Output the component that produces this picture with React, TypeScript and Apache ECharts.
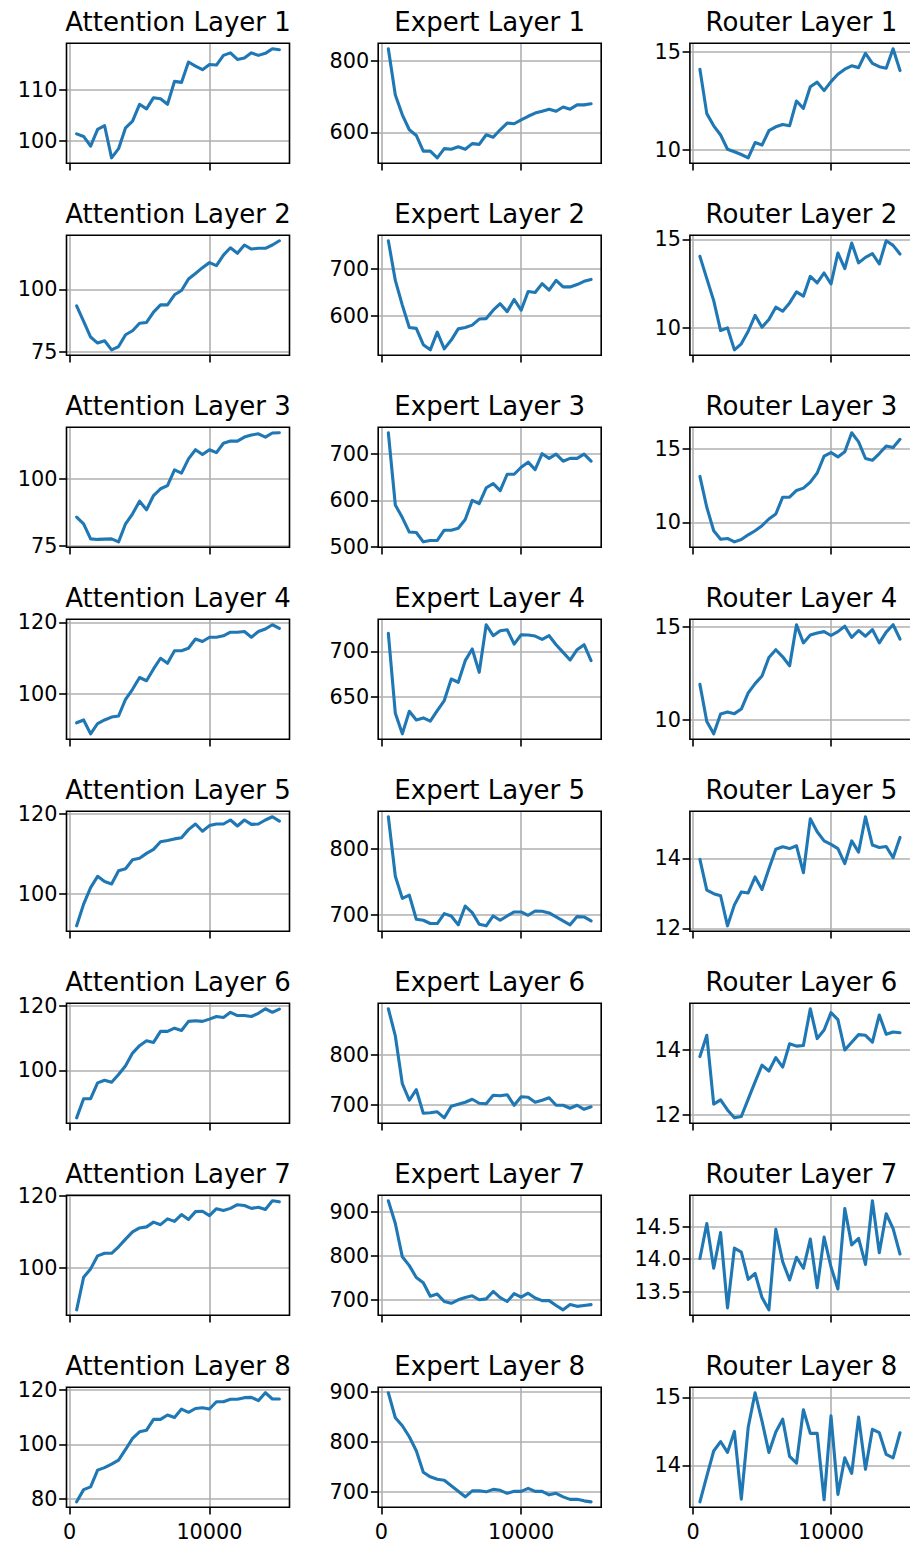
import React, { useEffect, useRef } from "react";
import * as echarts from "echarts";

const steps = [500, 1000, 1500, 2000, 2500, 3000, 3500, 4000, 4500, 5000, 5500, 6000, 6500, 7000, 7500, 8000, 8500, 9000, 9500, 10000, 10500, 11000, 11500, 12000, 12500, 13000, 13500, 14000, 14500, 15000];
const xTicks = [0, 10000];

const attention1 = [101.3, 100.8, 98.9, 102.2, 102.9, 96.6, 98.4, 102.5, 103.8, 107.1, 106.2, 108.4, 108.2, 107.1, 111.6, 111.4, 115.4, 114.6, 113.9, 114.9, 114.8, 116.7, 117.2, 115.9, 116.2, 117.2, 116.7, 117.1, 118.0, 117.8];
const expert1 = [835, 705, 649, 607, 591, 547, 547, 528, 554, 552, 559, 552, 568, 566, 593, 586, 607, 626, 624, 635, 645, 654, 659, 665, 659, 671, 665, 677, 677, 680];
const router1 = [14.1, 11.84, 11.22, 10.75, 10.03, 9.9, 9.76, 9.59, 10.37, 10.24, 10.97, 11.17, 11.29, 11.22, 12.48, 12.11, 13.21, 13.44, 13.01, 13.47, 13.84, 14.1, 14.27, 14.18, 14.91, 14.4, 14.23, 14.15, 15.14, 14.03];

const attention2 = [93.4, 87.2, 81.0, 78.6, 79.5, 75.9, 77.2, 81.9, 83.5, 86.5, 86.8, 90.9, 93.8, 93.8, 97.8, 99.5, 104.1, 106.3, 108.6, 110.6, 109.4, 113.6, 116.5, 114.3, 117.6, 116.0, 116.3, 116.3, 117.6, 119.3];
const expert2 = [761, 676, 623, 575, 573, 538, 527, 565, 529, 548, 572, 575, 580, 593, 594, 612, 626, 609, 635, 612, 652, 650, 669, 655, 676, 662, 662, 667, 674, 678];
const router2 = [14.04, 12.78, 11.54, 9.85, 10.0, 8.76, 9.1, 9.81, 10.71, 10.04, 10.47, 11.17, 10.94, 11.41, 12.03, 11.79, 12.91, 12.54, 13.1, 12.48, 14.23, 13.35, 14.79, 13.67, 13.98, 14.19, 13.61, 14.92, 14.66, 14.17];

const attention3 = [85.8, 83.3, 77.7, 77.5, 77.6, 77.7, 76.6, 83.3, 87.0, 91.7, 88.5, 93.8, 96.3, 97.5, 103.3, 102.1, 107.4, 110.8, 109.0, 110.8, 109.7, 113.2, 114.0, 114.0, 115.5, 116.3, 116.7, 115.5, 117.0, 117.1];
const expert3 = [745, 590, 563, 532, 531, 511, 514, 514, 536, 536, 540, 559, 600, 593, 627, 636, 621, 656, 656, 671, 682, 666, 700, 690, 699, 684, 690, 690, 699, 684];
const router3 = [13.14, 11.03, 9.43, 8.85, 8.9, 8.67, 8.83, 9.15, 9.43, 9.77, 10.23, 10.57, 11.72, 11.72, 12.18, 12.34, 12.75, 13.37, 14.52, 14.77, 14.47, 14.82, 16.12, 15.5, 14.36, 14.24, 14.7, 15.21, 15.11, 15.67];

const attention4 = [91.8, 92.6, 88.7, 91.6, 92.6, 93.4, 93.7, 98.4, 101.2, 104.5, 103.6, 106.9, 109.9, 108.5, 112.0, 112.0, 112.7, 115.3, 114.6, 115.8, 115.8, 116.2, 117.2, 117.2, 117.4, 115.8, 117.4, 118.1, 119.3, 118.3];
const expert4 = [719.7, 632.1, 609.5, 634.3, 624.8, 627.0, 623.4, 635.0, 646.0, 669.7, 666.1, 689.8, 702.6, 677.0, 729.2, 717.2, 722.6, 723.7, 708.0, 718.2, 717.9, 716.8, 713.1, 717.2, 707.3, 698.9, 690.5, 701.8, 707.3, 689.8];
const router4 = [11.91, 9.91, 9.24, 10.31, 10.42, 10.33, 10.58, 11.45, 11.95, 12.36, 13.36, 13.78, 13.4, 12.91, 15.13, 14.15, 14.58, 14.69, 14.76, 14.55, 14.76, 15.05, 14.45, 14.82, 14.51, 14.87, 14.15, 14.73, 15.13, 14.36];

const attention5 = [92.1, 97.5, 101.6, 104.4, 103.1, 102.5, 105.8, 106.3, 108.5, 108.9, 110.1, 111.1, 113.0, 113.3, 113.7, 114.0, 116.0, 117.4, 115.6, 117.0, 117.4, 117.4, 118.4, 116.9, 118.4, 117.3, 117.4, 118.4, 119.2, 118.1];
const expert5 = [847.8, 758.2, 724.9, 729.9, 693.5, 692.0, 687.1, 687.1, 702.0, 698.5, 685.1, 713.4, 703.5, 686.1, 683.6, 698.5, 692.0, 698.5, 704.5, 704.5, 699.5, 706.0, 705.5, 703.0, 697.0, 691.0, 685.1, 697.5, 697.0, 691.0];
const router5 = [13.97, 13.09, 12.99, 12.93, 12.07, 12.67, 13.04, 13.01, 13.47, 13.11, 13.7, 14.26, 14.33, 14.28, 14.36, 13.59, 15.13, 14.76, 14.5, 14.4, 14.28, 13.85, 14.5, 14.18, 15.19, 14.38, 14.31, 14.34, 14.02, 14.6];

const attention6 = [85.3, 91.2, 91.2, 96.1, 96.9, 96.3, 98.7, 101.4, 105.3, 107.6, 109.1, 108.6, 112.0, 112.0, 113.0, 112.3, 115.1, 115.3, 115.1, 115.8, 116.6, 116.3, 117.9, 116.9, 116.9, 116.6, 117.6, 119.0, 117.9, 118.9];
const expert6 = [891, 837, 742, 709, 730, 683, 684, 686, 674, 697, 701, 705, 711, 703, 702, 719, 718, 720, 699, 716, 715, 705, 709, 714, 699, 699, 693, 699, 691, 696];
const router6 = [13.79, 14.44, 12.34, 12.47, 12.16, 11.92, 11.96, 12.49, 13.02, 13.53, 13.35, 13.76, 13.47, 14.18, 14.11, 14.13, 15.25, 14.34, 14.6, 15.13, 14.92, 13.99, 14.23, 14.46, 14.44, 14.23, 15.06, 14.47, 14.54, 14.52];

const attention7 = [88.5, 97.5, 99.8, 103.4, 104.1, 104.1, 105.9, 108.0, 110.0, 111.1, 111.4, 112.7, 112.0, 113.6, 112.9, 114.8, 113.4, 115.6, 115.7, 114.5, 116.4, 115.9, 116.5, 117.5, 117.3, 116.5, 116.8, 116.2, 118.6, 118.3];
const expert7 = [926, 874, 798, 778, 751, 739, 708, 713, 696, 692, 700, 705, 709, 700, 702, 719, 705, 696, 714, 706, 715, 704, 698, 698, 687, 677, 689, 685, 687, 689];
const router7 = [14.01, 14.55, 13.86, 14.41, 13.25, 14.17, 14.11, 13.69, 13.78, 13.41, 13.22, 14.46, 13.96, 13.68, 14.03, 13.86, 14.31, 13.56, 14.34, 13.88, 13.54, 14.78, 14.22, 14.32, 13.92, 14.9, 14.1, 14.7, 14.47, 14.08];

const attention8 = [78.8, 83.3, 84.3, 90.5, 91.4, 92.7, 94.2, 98.1, 102.2, 104.6, 105.2, 109.2, 109.2, 110.8, 109.9, 113.0, 111.8, 113.2, 113.5, 113.0, 115.7, 115.7, 116.6, 116.6, 117.2, 117.3, 116.1, 119.0, 116.7, 116.7];
const expert8 = [898, 848, 832, 810, 782, 739, 730, 725, 723, 712, 701, 690, 702, 702, 700, 705, 703, 697, 701, 701, 707, 701, 701, 694, 697, 690, 685, 685, 682, 680];
const router8 = [13.46, 13.84, 14.21, 14.35, 14.19, 14.5, 13.5, 14.56, 15.07, 14.65, 14.19, 14.49, 14.68, 14.13, 14.03, 14.82, 14.47, 14.47, 13.49, 14.73, 13.57, 14.11, 13.88, 14.71, 13.94, 14.53, 14.48, 14.16, 14.11, 14.48];

const attTicks1 = [100, 110];
const expTicks1 = [600, 800];
const rtTicks1 = [10, 15];
const attTicks2 = [75, 100];
const expTicks2 = [600, 700];
const rtTicks2 = [10, 15];
const attTicks3 = [75, 100];
const expTicks3 = [500, 600, 700];
const rtTicks3 = [10, 15];
const attTicks4 = [100, 120];
const expTicks4 = [650, 700];
const rtTicks4 = [10, 15];
const attTicks5 = [100, 120];
const expTicks5 = [700, 800];
const rtTicks5 = [12, 14];
const attTicks6 = [100, 120];
const expTicks6 = [700, 800];
const rtTicks6 = [12, 14];
const attTicks7 = [100, 120];
const expTicks7 = [700, 800, 900];
const rtTicks7 = [13.5, 14.0, 14.5];
const attTicks8 = [80, 100, 120];
const expTicks8 = [700, 800, 900];
const rtTicks8 = [14, 15];

const panels = [
  { title: "Attention Layer 1", data: attention1, ticks: attTicks1, dec: 0 },
  { title: "Expert Layer 1", data: expert1, ticks: expTicks1, dec: 0 },
  { title: "Router Layer 1", data: router1, ticks: rtTicks1, dec: 0 },
  { title: "Attention Layer 2", data: attention2, ticks: attTicks2, dec: 0 },
  { title: "Expert Layer 2", data: expert2, ticks: expTicks2, dec: 0 },
  { title: "Router Layer 2", data: router2, ticks: rtTicks2, dec: 0 },
  { title: "Attention Layer 3", data: attention3, ticks: attTicks3, dec: 0 },
  { title: "Expert Layer 3", data: expert3, ticks: expTicks3, dec: 0 },
  { title: "Router Layer 3", data: router3, ticks: rtTicks3, dec: 0 },
  { title: "Attention Layer 4", data: attention4, ticks: attTicks4, dec: 0 },
  { title: "Expert Layer 4", data: expert4, ticks: expTicks4, dec: 0 },
  { title: "Router Layer 4", data: router4, ticks: rtTicks4, dec: 0 },
  { title: "Attention Layer 5", data: attention5, ticks: attTicks5, dec: 0 },
  { title: "Expert Layer 5", data: expert5, ticks: expTicks5, dec: 0 },
  { title: "Router Layer 5", data: router5, ticks: rtTicks5, dec: 0 },
  { title: "Attention Layer 6", data: attention6, ticks: attTicks6, dec: 0 },
  { title: "Expert Layer 6", data: expert6, ticks: expTicks6, dec: 0 },
  { title: "Router Layer 6", data: router6, ticks: rtTicks6, dec: 0 },
  { title: "Attention Layer 7", data: attention7, ticks: attTicks7, dec: 0 },
  { title: "Expert Layer 7", data: expert7, ticks: expTicks7, dec: 0 },
  { title: "Router Layer 7", data: router7, ticks: rtTicks7, dec: 1 },
  { title: "Attention Layer 8", data: attention8, ticks: attTicks8, dec: 0 },
  { title: "Expert Layer 8", data: expert8, ticks: expTicks8, dec: 0 },
  { title: "Router Layer 8", data: router8, ticks: rtTicks8, dec: 0 },
];

const COL_LEFT = [66.5, 378.2, 689.9];
const PLOT_W = 223;
const PLOT_H = 120;
const ROW_TOP0 = 43.3;
const ROW_STEP = 192;
const X_MIN = -225;
const X_MAX = 15725;
const FONT = "DejaVu Sans";
const LW = 1.6;

export default function App() {
  const ref = useRef<HTMLDivElement>(null);
  useEffect(() => {
    if (!ref.current) return;
    const chart = echarts.init(ref.current, null, { renderer: "svg" });
    const grids: any[] = [];
    const xAxes: any[] = [];
    const yAxes: any[] = [];
    const series: any[] = [];
    const graphics: any[] = [];
    panels.forEach((p, i) => {
      const row = Math.floor(i / 3);
      const col = i % 3;
      const left = COL_LEFT[col];
      const top = ROW_TOP0 + ROW_STEP * row;
      const lo = Math.min(...p.data);
      const hi = Math.max(...p.data);
      const pad = (hi - lo) * 0.05;
      grids.push({ left, top, width: PLOT_W, height: PLOT_H, containLabel: false });
      xAxes.push({
        type: "value",
        gridIndex: i,
        min: X_MIN,
        max: X_MAX,
        axisLine: { show: false, onZero: false },
        axisTick: { show: true, customValues: xTicks, length: 7.3, lineStyle: { color: "#000", width: LW } },
        axisLabel: {
          show: row === 7,
          customValues: xTicks,
          margin: 14.6,
          fontSize: 20.8,
          fontFamily: FONT,
          color: "#000",
          formatter: (v: number) => String(v),
        },
        splitLine: { show: true, lineStyle: { color: "#b0b0b0", width: LW } },
      });
      yAxes.push({
        type: "value",
        gridIndex: i,
        min: lo - pad,
        max: hi + pad,
        axisLine: { show: false, onZero: false },
        axisTick: { show: true, customValues: p.ticks, length: 7.3, lineStyle: { color: "#000", width: LW } },
        axisLabel: {
          show: true,
          customValues: p.ticks,
          margin: 9,
          fontSize: 20.8,
          fontFamily: FONT,
          color: "#000",
          formatter: (v: number) => (p.dec ? v.toFixed(p.dec) : String(Math.round(v))),
        },
        splitLine: { show: true, lineStyle: { color: "#b0b0b0", width: LW } },
      });
      series.push({
        type: "line",
        xAxisIndex: i,
        yAxisIndex: i,
        data: steps.map((x, j) => [x, p.data[j]]),
        showSymbol: false,
        symbol: "none",
        clip: true,
        lineStyle: { color: "#1f77b4", width: 3.1, join: "round", cap: "round" },
        itemStyle: { color: "#1f77b4" },
        z: 3,
      });
      graphics.push({
        type: "rect",
        shape: { x: left, y: top, width: PLOT_W, height: PLOT_H },
        style: { fill: "none", stroke: "#000", lineWidth: LW },
        silent: true,
        z: 100,
      });
      graphics.push({
        type: "text",
        x: left + PLOT_W / 2,
        y: top - 12.5 - 9,
        style: {
          text: p.title,
          font: `26px '${FONT}'`,
          fill: "#000",
          textAlign: "center",
          textVerticalAlign: "middle",
        },
        silent: true,
        z: 100,
      });
    });
    chart.setOption({
      animation: false,
      backgroundColor: "#fff",
      grid: grids,
      xAxis: xAxes,
      yAxis: yAxes,
      series,
      graphic: graphics,
    });
    return () => chart.dispose();
  }, []);
  return (
    <div
      ref={ref}
      style={{ position: "absolute", left: 0, top: 0, width: 910, height: 1545 }}
    />
  );
}
